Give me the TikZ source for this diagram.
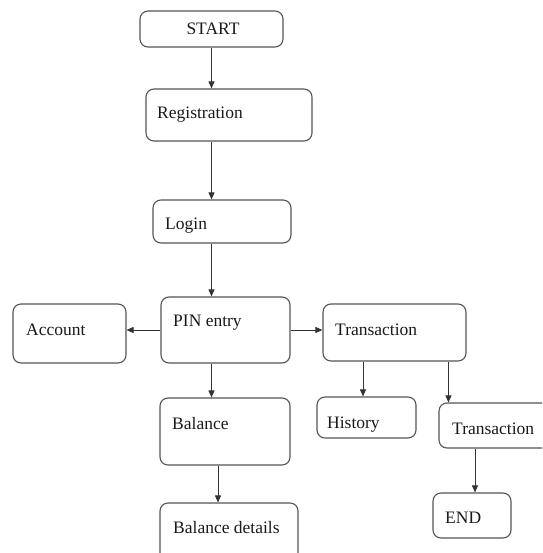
\documentclass[tikz,border=0pt]{standalone}
\usepackage{fontspec}
\setmainfont{Liberation Serif}
\usetikzlibrary{arrows.meta}
\definecolor{boxgray}{RGB}{85,85,85}

\begin{document}
\begin{tikzpicture}[x=1pt,y=-1pt,>={Triangle[length=7pt,width=6pt]}]
    \tikzset{box/.style={draw=boxgray,line width=1.1pt,rounded corners=8pt,inner sep=0pt},
             lbl/.style={anchor=base west,inner sep=0pt,font=\rmfamily\fontsize{17.5}{20}\selectfont,text=black!90},
             link/.style={->,draw=black!80,line width=0.9pt}}
    \clip (0,0) rectangle (542,553);

    % boxes
    \node[box,minimum width=143pt,minimum height=36pt] (start)  at (211.5,29)  {};
    \node[box,minimum width=166pt,minimum height=52pt] (reg)    at (229,115)   {};
    \node[box,minimum width=138pt,minimum height=43pt] (login)  at (222,221.5) {};
    \node[box,minimum width=129pt,minimum height=66pt] (pin)    at (225.5,330) {};
    \node[box,minimum width=113pt,minimum height=59pt] (acc)    at (69.5,333.5) {};
    \node[box,minimum width=143pt,minimum height=57pt] (trans)  at (394.5,332.5) {};
    \node[box,minimum width=99pt,minimum height=41pt]  (hist)   at (366.5,417.5) {};
    \node[box,minimum width=131pt,minimum height=45pt] (trans2) at (504.5,425.5) {};
    \node[box,minimum width=78pt,minimum height=45pt]  (end)    at (472,515.5) {};
    \node[box,minimum width=130pt,minimum height=67pt] (bal)    at (225,431.5) {};
    \node[box,minimum width=138pt,minimum height=72pt] (bald)   at (229,539)   {};

    % texts
    \node[lbl,anchor=base] (startT) at (213,35) {START};
    \node[lbl] (regT)    at (157,119) {Registration};
    \node[lbl] (loginT)  at (165,229) {Login};
    \node[lbl] (pinT)    at (173,326) {PIN entry};
    \node[lbl] (accT)    at (26,335)  {Account};
    \node[lbl] (transT)  at (335,335) {Transaction};
    \node[lbl] (histT)   at (327,428) {History};
    \node[lbl] (trans2T) at (452,434) {Transaction};
    \node[lbl] (endT)    at (445,523) {END};
    \node[lbl] (balT)    at (172,429) {Balance};
    \node[lbl] (baldT)   at (173,533) {Balance details};

    \coordinate (histIn) at ([xshift=-3.5pt]hist.north);
    \coordinate (trans2In) at ([xshift=10pt]trans2.north west);
    \coordinate (endIn) at ([xshift=3pt]end.north);
    \coordinate (baldIn) at ([xshift=-7pt]bal.south);

    % connectors
    \draw[link] (start.south) -- (start.south |- reg.north);
    \draw[link] (start.south |- reg.south) -- (start.south |- login.north);
    \draw[link] (start.south |- login.south) -- (start.south |- pin.north);
    \draw[link] (start.south |- pin.south) -- (start.south |- bal.north);
    \draw[link] (baldIn) -- (baldIn |- bald.north);
    \draw[link] (pin.west) -- (pin.west -| acc.east);
    \draw[link] (pin.east) -- (pin.east -| trans.west);
    \draw[link] (histIn |- trans.south) -- (histIn);
    \draw[link] (trans2In |- trans.south) -- (trans2In);
    \draw[link] (endIn |- trans2.south) -- (endIn);
\end{tikzpicture}
\end{document}
